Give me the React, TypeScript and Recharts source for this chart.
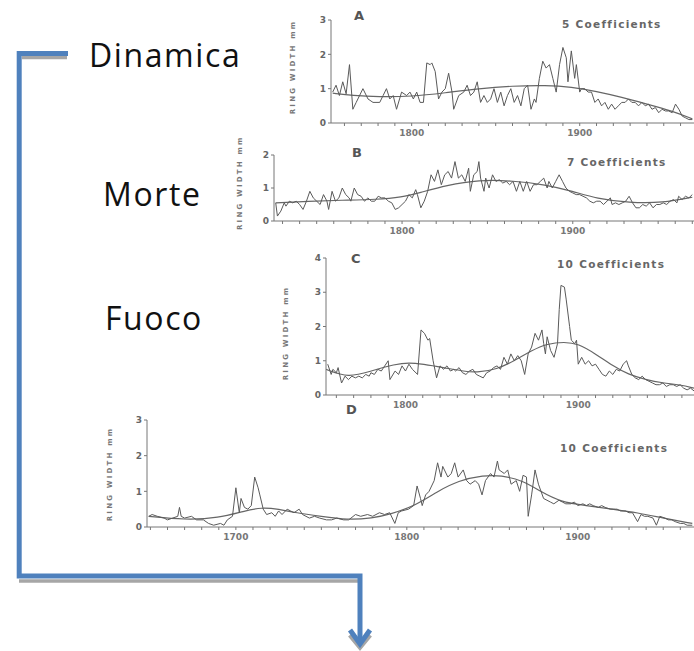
import { LineChart, Line, XAxis, YAxis } from "recharts"

type Pt = [number, number]

// panel A – raw ring widths and 5-coefficient fit
const rawA: Pt[] = [
  [1753, 0.9], [1755, 1.1], [1757, 0.8], [1759, 1.2], [1761, 0.85], [1763, 1.7], [1765, 0.4], [1767, 0.6],
  [1771, 1.0], [1774, 0.7], [1777, 0.6], [1781, 0.6], [1783, 0.8], [1785, 1.0], [1787, 0.7], [1789, 0.8],
  [1791, 0.4], [1794, 0.9], [1797, 0.8], [1799, 0.9], [1801, 0.7], [1803, 0.9], [1805, 0.6], [1807, 0.6],
  [1809, 1.75], [1811, 1.7], [1812, 1.75], [1814, 1.5], [1816, 0.7], [1818, 0.9], [1820, 1.0], [1822, 1.45],
  [1824, 0.9], [1825, 0.4], [1828, 0.8], [1831, 0.9], [1833, 1.1], [1835, 0.8], [1837, 0.9], [1839, 1.2],
  [1841, 0.6], [1843, 0.8], [1845, 0.6], [1847, 0.7], [1849, 1.0], [1851, 0.6], [1853, 0.9], [1855, 0.5],
  [1857, 0.8], [1859, 1.0], [1861, 0.6], [1863, 0.8], [1865, 0.5], [1867, 1.0], [1869, 1.1], [1871, 0.4],
  [1873, 0.7], [1874, 0.6], [1876, 1.3], [1878, 1.8], [1880, 1.6], [1882, 1.7], [1884, 1.3], [1886, 0.9],
  [1888, 1.7], [1890, 2.2], [1892, 1.9], [1893, 1.2], [1895, 2.1], [1897, 1.3], [1898, 1.7], [1900, 0.9],
  [1901, 1.0], [1903, 1.0], [1905, 0.9], [1907, 0.9], [1909, 0.6], [1911, 0.7], [1913, 0.5], [1915, 0.6],
  [1917, 0.4], [1919, 0.55], [1921, 0.4], [1923, 0.5], [1925, 0.6], [1927, 0.6], [1929, 0.7], [1931, 0.6],
  [1933, 0.6], [1935, 0.5], [1937, 0.6], [1939, 0.5], [1941, 0.55], [1943, 0.4], [1945, 0.45], [1947, 0.3],
  [1949, 0.4], [1951, 0.35], [1953, 0.35], [1955, 0.3], [1957, 0.55], [1959, 0.4], [1961, 0.2], [1963, 0.15],
  [1965, 0.1], [1967, 0.1],
]
const fitA: Pt[] = [
  [1753, 0.87], [1765, 0.8], [1780, 0.76], [1800, 0.77], [1820, 0.88], [1840, 1.0], [1860, 1.08],
  [1880, 1.1], [1895, 1.05], [1910, 0.92], [1925, 0.75], [1940, 0.55], [1955, 0.35], [1967, 0.12],
]

// panel B – 7 coefficients
const rawB: Pt[] = [
  [1726, 0.55], [1727, 0.15], [1729, 0.3], [1731, 0.55], [1732, 0.45], [1734, 0.6], [1736, 0.55], [1738, 0.6],
  [1740, 0.5], [1742, 0.35], [1744, 0.6], [1746, 0.9], [1748, 0.7], [1750, 0.6], [1752, 0.5], [1754, 0.8],
  [1756, 0.6], [1757, 0.35], [1759, 0.9], [1761, 0.6], [1763, 0.7], [1765, 1.0], [1767, 0.8], [1769, 0.7],
  [1770, 0.6], [1772, 1.0], [1774, 0.8], [1776, 0.75], [1778, 0.6], [1780, 0.7], [1782, 0.6], [1784, 0.6],
  [1786, 0.75], [1788, 0.7], [1790, 0.7], [1792, 0.6], [1794, 0.55], [1796, 0.35], [1798, 0.4], [1800, 0.5],
  [1802, 0.6], [1804, 0.8], [1806, 0.7], [1808, 0.95], [1809, 0.8], [1811, 0.4], [1813, 0.6], [1815, 0.9],
  [1817, 1.4], [1819, 1.2], [1821, 1.55], [1823, 1.1], [1825, 1.4], [1827, 1.5], [1829, 1.3], [1831, 1.8],
  [1833, 1.3], [1835, 1.4], [1837, 1.2], [1839, 1.6], [1840, 0.9], [1842, 1.4], [1844, 1.5], [1845, 1.8],
  [1846, 1.3], [1848, 0.9], [1849, 1.3], [1851, 1.0], [1853, 1.4], [1855, 1.2], [1857, 1.25], [1859, 1.15],
  [1861, 1.2], [1863, 1.1], [1865, 1.2], [1867, 0.9], [1869, 1.2], [1871, 0.9], [1873, 1.2], [1875, 0.9],
  [1877, 1.1], [1879, 1.1], [1881, 1.2], [1883, 1.3], [1885, 1.0], [1886, 1.2], [1888, 1.0], [1890, 1.2],
  [1892, 1.4], [1894, 1.2], [1896, 1.0], [1898, 0.9], [1900, 0.85], [1902, 0.8], [1904, 0.8], [1906, 0.75],
  [1908, 0.7], [1910, 0.6], [1912, 0.55], [1914, 0.6], [1916, 0.6], [1918, 0.5], [1920, 0.6], [1922, 0.7],
  [1923, 0.5], [1925, 0.55], [1927, 0.5], [1929, 0.55], [1931, 0.6], [1933, 0.75], [1935, 0.55], [1937, 0.4],
  [1939, 0.4], [1941, 0.5], [1943, 0.45], [1945, 0.55], [1947, 0.4], [1949, 0.5], [1951, 0.5], [1953, 0.55],
  [1955, 0.5], [1957, 0.6], [1959, 0.65], [1961, 0.55], [1962, 0.75], [1964, 0.65], [1966, 0.75], [1968, 0.7],
  [1970, 0.8],
]
const fitB: Pt[] = [
  [1726, 0.55], [1745, 0.6], [1765, 0.63], [1785, 0.65], [1800, 0.72], [1810, 0.85], [1826, 1.08],
  [1845, 1.25], [1865, 1.22], [1884, 1.1], [1900, 0.9], [1914, 0.68], [1933, 0.55], [1953, 0.55], [1970, 0.72],
]

// panel C – 10 coefficients
const rawC: Pt[] = [
  [1755, 0.9], [1757, 0.6], [1758, 0.75], [1760, 0.65], [1761, 0.8], [1763, 0.35], [1765, 0.55], [1767, 0.45],
  [1769, 0.55], [1771, 0.5], [1773, 0.55], [1775, 0.5], [1777, 0.6], [1779, 0.55], [1780, 0.65], [1782, 0.6],
  [1784, 0.75], [1786, 0.7], [1788, 0.85], [1790, 1.0], [1791, 0.45], [1794, 0.7], [1796, 0.6], [1798, 0.85],
  [1800, 0.7], [1802, 0.9], [1804, 0.75], [1807, 0.6], [1809, 1.9], [1811, 1.8], [1813, 1.6], [1814, 1.65],
  [1816, 1.0], [1818, 0.5], [1820, 0.85], [1822, 0.75], [1824, 0.85], [1826, 0.7], [1828, 0.75], [1829, 0.7],
  [1831, 0.8], [1833, 0.65], [1835, 0.6], [1837, 0.7], [1839, 0.75], [1841, 0.6], [1843, 0.55], [1845, 0.5],
  [1847, 0.65], [1849, 0.7], [1851, 0.8], [1853, 0.85], [1855, 0.75], [1857, 1.1], [1859, 0.9], [1861, 1.2],
  [1863, 1.0], [1865, 1.15], [1867, 1.0], [1869, 0.6], [1871, 1.2], [1873, 1.4], [1875, 1.8], [1877, 1.6],
  [1879, 1.9], [1880, 1.5], [1881, 1.2], [1882, 1.7], [1884, 1.3], [1886, 1.1], [1888, 1.5], [1889, 2.5],
  [1890, 3.2], [1892, 3.15], [1893, 2.8], [1895, 2.0], [1896, 1.6], [1898, 1.5], [1899, 1.6], [1900, 0.9],
  [1902, 1.1], [1904, 0.9], [1906, 1.0], [1908, 0.85], [1910, 0.9], [1912, 0.75], [1914, 0.6], [1916, 0.55],
  [1918, 0.7], [1920, 0.6], [1922, 0.75], [1924, 0.7], [1926, 0.9], [1928, 1.0], [1929, 0.85], [1931, 0.6],
  [1933, 0.5], [1935, 0.45], [1937, 0.55], [1939, 0.45], [1941, 0.4], [1943, 0.35], [1945, 0.3], [1947, 0.3],
  [1949, 0.35], [1951, 0.25], [1953, 0.3], [1955, 0.3], [1957, 0.25], [1959, 0.3], [1961, 0.2], [1963, 0.15],
  [1965, 0.2], [1967, 0.12],
]
const fitC: Pt[] = [
  [1754, 0.75], [1767, 0.5], [1780, 0.7], [1794, 0.9], [1802, 0.95], [1810, 0.9], [1822, 0.8], [1833, 0.7],
  [1841, 0.65], [1853, 0.75], [1863, 1.0], [1873, 1.3], [1882, 1.5], [1892, 1.55], [1900, 1.5], [1910, 1.2],
  [1920, 0.85], [1929, 0.6], [1939, 0.45], [1949, 0.35], [1959, 0.3], [1967, 0.2],
]

// panel D – 10 coefficients, longest record
const rawD: Pt[] = [
  [1649, 0.3], [1651, 0.35], [1654, 0.3], [1658, 0.25], [1660, 0.2], [1663, 0.25], [1666, 0.3], [1667, 0.55],
  [1668, 0.3], [1670, 0.25], [1674, 0.3], [1677, 0.2], [1681, 0.2], [1684, 0.1], [1687, 0.05], [1691, 0.1],
  [1693, 0.05], [1695, 0.2], [1698, 0.3], [1700, 1.1], [1702, 0.4], [1703, 0.8], [1705, 0.55], [1707, 0.5],
  [1709, 0.6], [1711, 1.4], [1713, 1.1], [1714, 0.9], [1716, 0.5], [1718, 0.35], [1721, 0.4], [1723, 0.3],
  [1725, 0.45], [1727, 0.35], [1730, 0.5], [1732, 0.45], [1734, 0.4], [1737, 0.5], [1739, 0.35], [1741, 0.3],
  [1743, 0.25], [1746, 0.3], [1749, 0.25], [1753, 0.2], [1756, 0.2], [1759, 0.25], [1763, 0.2], [1766, 0.2],
  [1770, 0.35], [1773, 0.3], [1777, 0.35], [1780, 0.3], [1784, 0.4], [1787, 0.35], [1790, 0.4], [1793, 0.1],
  [1795, 0.4], [1797, 0.45], [1801, 0.5], [1804, 0.6], [1806, 1.15], [1808, 0.8], [1809, 0.6], [1811, 0.9],
  [1813, 1.0], [1816, 1.3], [1818, 1.8], [1820, 1.4], [1821, 1.7], [1824, 1.4], [1826, 1.5], [1828, 1.8],
  [1830, 1.4], [1833, 1.6], [1835, 1.3], [1837, 1.2], [1840, 1.3], [1842, 1.2], [1844, 0.9], [1846, 1.3],
  [1849, 1.5], [1851, 1.4], [1853, 1.85], [1854, 1.6], [1857, 1.5], [1859, 1.6], [1861, 1.2], [1864, 1.3],
  [1866, 1.0], [1868, 1.45], [1870, 1.4], [1871, 0.3], [1873, 0.9], [1875, 1.6], [1877, 1.2], [1880, 0.8],
  [1882, 0.75], [1884, 0.7], [1886, 0.65], [1889, 0.75], [1891, 0.7], [1893, 0.65], [1896, 0.65], [1898, 0.7],
  [1900, 0.6], [1903, 0.65], [1905, 0.6], [1907, 0.65], [1909, 0.6], [1912, 0.55], [1914, 0.6], [1916, 0.55],
  [1919, 0.5], [1921, 0.5], [1923, 0.5], [1925, 0.45], [1928, 0.45], [1930, 0.4], [1932, 0.4], [1935, 0.15],
  [1937, 0.35], [1939, 0.3], [1941, 0.3], [1944, 0.25], [1946, 0.05], [1948, 0.3], [1951, 0.25], [1953, 0.2],
  [1955, 0.2], [1957, 0.15], [1960, 0.1], [1962, 0.1], [1964, 0.05], [1967, 0.05],
]
const fitD: Pt[] = [
  [1649, 0.3], [1670, 0.2], [1690, 0.25], [1705, 0.45], [1715, 0.55], [1725, 0.5], [1735, 0.4], [1750, 0.3],
  [1765, 0.2], [1780, 0.25], [1790, 0.35], [1805, 0.6], [1818, 1.0], [1830, 1.3], [1845, 1.45], [1855, 1.45],
  [1868, 1.3], [1878, 1.0], [1890, 0.7], [1905, 0.6], [1920, 0.5], [1935, 0.4], [1950, 0.25], [1967, 0.1],
]

const centuryLabels = [1700, 1800, 1900]
const sideLabels = ["Dinamica", "Morte", "Fuoco"]

type PanelSpec = {
  letter: string
  coeff: string
  raw: Pt[]
  fit: Pt[]
  domain: [number, number]
  yMax: number
  left: number
  top: number
  width: number
  plotH: number
  letterPos: [number, number]
  coeffPos: [number, number]
  labelPos: [number, number, number]
}

const panels: PanelSpec[] = [
  { letter: "A", coeff: "5 Coefficients", raw: rawA, fit: fitA, domain: [1752, 1968], yMax: 3,
    left: 311, top: 15, width: 383, plotH: 103, letterPos: [354, 8], coeffPos: [562, 18], labelPos: [293, 67, 100] },
  { letter: "B", coeff: "7 Coefficients", raw: rawB, fit: fitB, domain: [1725, 1971], yMax: 2,
    left: 254, top: 150, width: 440, plotH: 66, letterPos: [352, 145], coeffPos: [567, 156], labelPos: [240, 185, 90] },
  { letter: "C", coeff: "10 Coefficients", raw: rawC, fit: fitC, domain: [1754, 1967], yMax: 4,
    left: 306, top: 253, width: 388, plotH: 137, letterPos: [351, 251], coeffPos: [557, 258], labelPos: [285, 333, 107] },
  { letter: "D", coeff: "10 Coefficients", raw: rawD, fit: fitD, domain: [1648, 1968], yMax: 3,
    left: 127, top: 415, width: 567, plotH: 107, letterPos: [346, 402], coeffPos: [560, 442], labelPos: [110, 474, 98] },
]

const figFont = "'DejaVu Sans', sans-serif"
const ink = "#5a5a5a"

function decades(domain: [number, number]) {
  const out: number[] = []
  for (let y = Math.ceil(domain[0] / 10) * 10; y <= domain[1]; y += 10) out.push(y)
  return out
}

function Panel({ p }: { p: PanelSpec }) {
  const raw = p.raw.map(([year, v]) => ({ year, v }))
  const fit = p.fit.map(([year, v]) => ({ year, v }))
  const yTicks = Array.from({ length: p.yMax + 1 }, (_, i) => i)
  return (
    <>
      <div style={{ position: "absolute", left: p.left, top: p.top }}>
        <LineChart width={p.width} height={p.plotH + 23} margin={{ top: 5, right: 0, bottom: 0, left: 0 }}>
          <XAxis
            type="number"
            dataKey="year"
            domain={p.domain}
            ticks={decades(p.domain)}
            interval={0}
            allowDataOverflow
            height={18}
            tickSize={3}
            stroke="#777"
            tick={(props: any) => {
              const { x, y, payload } = props
              if (!centuryLabels.includes(payload.value)) return <g />
              return (
                <text x={x} y={y + 8} textAnchor="middle" fontSize={9} fontFamily={figFont} fontWeight={700} fill="#777">
                  {payload.value}
                </text>
              )
            }}
          />
          <YAxis
            type="number"
            domain={[0, p.yMax]}
            ticks={yTicks}
            interval={0}
            width={20}
            tickSize={3}
            stroke="#777"
            tick={{ fontSize: 9, fontFamily: figFont, fontWeight: 700, fill: "#666" }}
          />
          <Line data={fit} dataKey="v" type="basis" stroke="#666" strokeWidth={1.2} dot={false} isAnimationActive={false} />
          <Line data={raw} dataKey="v" type="linear" stroke={ink} strokeWidth={1} dot={false} isAnimationActive={false} />
        </LineChart>
      </div>
      <div style={{ position: "absolute", left: p.letterPos[0], top: p.letterPos[1], font: `700 13px ${figFont}`, color: "#555" }}>
        {p.letter}
      </div>
      <div style={{ position: "absolute", left: p.coeffPos[0], top: p.coeffPos[1], font: `700 10.5px ${figFont}`, letterSpacing: 1.3, color: "#666", whiteSpace: "nowrap" }}>
        {p.coeff}
      </div>
      <div
        style={{
          position: "absolute",
          left: p.labelPos[0] - p.labelPos[2] / 2,
          top: p.labelPos[1] - 5,
          width: p.labelPos[2],
          textAlign: "center",
          transform: "rotate(-90deg)",
          font: `700 7px ${figFont}`,
          letterSpacing: 2.2,
          color: "#777",
          whiteSpace: "nowrap",
          lineHeight: "10px",
        }}
      >
        RING WIDTH mm
      </div>
    </>
  )
}

export default function App() {
  const blue = "#4f81bd"
  const shade = "#a6a6a6"
  return (
    <div style={{ position: "absolute", left: 0, top: 0, width: 694, height: 651, background: "#fff", overflow: "hidden" }}>
      <svg width={694} height={651} style={{ position: "absolute", left: 0, top: 0 }}>
        <line x1={22} y1={57.5} x2={67} y2={57.5} stroke={shade} strokeWidth={3.5} />
        <line x1={19} y1={581} x2={358} y2={581} stroke={shade} strokeWidth={3.5} />
        <polyline points="68,53.5 19.2,53.5 19.2,576 360,576 360,644" fill="none" stroke={blue} strokeWidth={5} />
        <polyline points="350,632 360,644 370,632" fill="none" stroke={shade} strokeWidth={5} transform="translate(0,3)" />
        <polyline points="350,630 360,644 370,630" fill="none" stroke={blue} strokeWidth={5} strokeLinejoin="miter" />
        <text x={89} y={67} fontSize={32} fontFamily="'Open Sans', sans-serif" letterSpacing={1.6} fill="#111">{sideLabels[0]}</text>
        <text x={103} y={206} fontSize={32} fontFamily="'Open Sans', sans-serif" letterSpacing={1.6} fill="#111">{sideLabels[1]}</text>
        <text x={105} y={330} fontSize={32} fontFamily="'Open Sans', sans-serif" letterSpacing={1.6} fill="#111">{sideLabels[2]}</text>
      </svg>
      {panels.map((p) => (
        <Panel key={p.letter} p={p} />
      ))}
    </div>
  )
}
